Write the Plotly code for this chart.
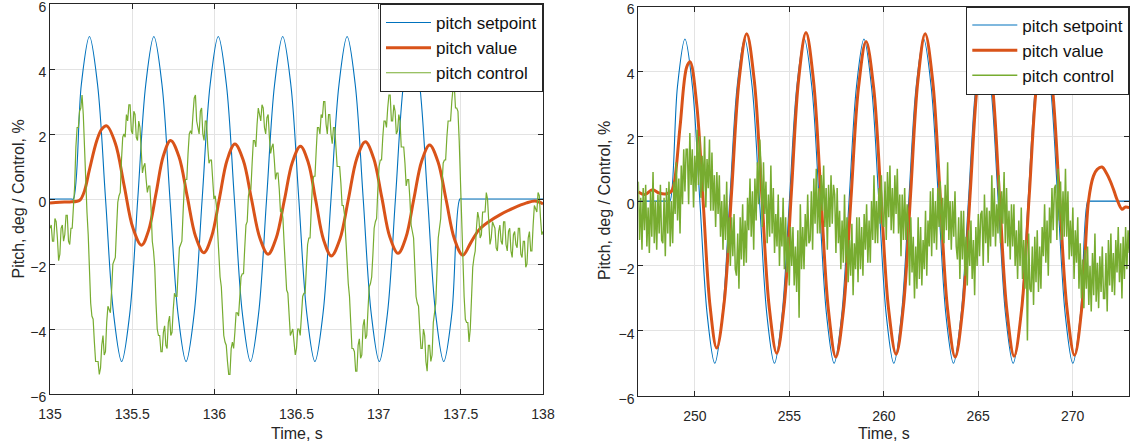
import plotly.graph_objects as go

# ---------------- run A: 135 .. 138 s ----------------
tA_set = [135.000, 135.130,
          135.142, 135.191, 135.240, 135.289, 135.338, 135.387, 135.436, 135.485,
          135.534, 135.583, 135.632, 135.681, 135.730, 135.779, 135.828, 135.877,
          135.926, 135.975, 136.024, 136.073, 136.122, 136.171, 136.220, 136.269,
          136.318, 136.367, 136.416, 136.465, 136.514, 136.563, 136.612, 136.661,
          136.710, 136.759, 136.808, 136.857, 136.906, 136.955, 137.004, 137.053,
          137.102, 137.151, 137.200, 137.249, 137.298, 137.347, 137.396, 137.445,
          137.494, 137.506, 138.000]
vA_set = [0, 0,
          0, 3.54, 5, 3.54, 0, -3.54, -5, -3.54,
          0, 3.54, 5, 3.54, 0, -3.54, -5, -3.54,
          0, 3.54, 5, 3.54, 0, -3.54, -5, -3.54,
          0, 3.54, 5, 3.54, 0, -3.54, -5, -3.54,
          0, 3.54, 5, 3.54, 0, -3.54, -5, -3.54,
          0, 3.54, 5, 3.54, 0, -3.54, -5, -3.54,
          0, 0, 0]

tA_val = [135.000, 135.060, 135.120, 135.165, 135.185, 135.210, 135.240, 135.285,
          135.315, 135.345, 135.398, 135.451, 135.504, 135.557, 135.601, 135.646,
          135.690, 135.734, 135.785, 135.835, 135.886, 135.936, 135.983, 136.031,
          136.078, 136.125, 136.176, 136.226, 136.277, 136.327, 136.376, 136.426,
          136.475, 136.524, 136.571, 136.618, 136.665, 136.712, 136.764, 136.816,
          136.867, 136.919, 136.969, 137.019, 137.068, 137.118, 137.166, 137.214,
          137.262, 137.310, 137.360, 137.411, 137.461, 137.512, 137.560, 137.610,
          137.670, 137.740, 137.820, 137.900, 137.950, 137.980, 138.000]
vA_val = [-0.12, -0.10, -0.09, -0.07, -0.02, 0.25, 0.90, 1.80,
          2.15, 2.25, 1.71, 0.42, -0.88, -1.42, -0.95, 0.19,
          1.33, 1.80, 1.30, 0.08, -1.15, -1.65, -1.16, 0.02,
          1.20, 1.69, 1.19, 0.00, -1.20, -1.70, -1.21, -0.04,
          1.13, 1.62, 1.13, -0.07, -1.26, -1.75, -1.24, 0.00,
          1.25, 1.76, 1.26, 0.05, -1.17, -1.67, -1.18, 0.00,
          1.17, 1.66, 1.16, -0.04, -1.23, -1.73, -1.35, -0.95,
          -0.70, -0.48, -0.28, -0.12, -0.06, -0.10, -0.15]

# control signal, sampled every 7.5 ms from 135.000 s
tA_ctl_start, tA_ctl_step = 135.0, 0.0075
vA_ctl = [
    -0.9, -0.8, -1.3, -1.3, -0.6, -0.7, -1.2, -1.9, -1.7, -0.9, -0.8, -1.3, -1.1, -0.5, -0.5, -1.3, -1.4, -0.9, -0.9, -0.3,
    0.4, 1.6, 2.2, 2.2, 2.7, 2.8, 3.2, 2.6, 1.4, 0.3, -0.4, -1.1, -2.3, -3.2, -3.6, -3.7, -4.4, -5.0, -5.0, -5.0,
    -5.4, -5.2, -4.5, -4.2, -4.8, -4.7, -3.8, -3.3, -3.4, -3.5, -2.8, -2.0, -1.9, -1.8, -0.9, -0.1, 0.1, 0.2, 1.2, 1.9,
    2.0, 1.9, 2.6, 2.4, 2.9, 2.9, 2.1, 2.0, 2.7, 2.6, 1.9, 1.8, 2.4, 2.2, 1.5, 0.8, 1.0, 1.1, 0.6, 0.2,
    0.4, 0.4, -0.3, -1.3, -1.6, -2.1, -3.2, -4.0, -4.2, -4.2, -4.7, -4.7, -4.1, -3.9, -4.5, -4.6, -3.8, -3.6, -4.2, -4.1,
    -3.4, -2.9, -3.0, -3.0, -2.2, -1.5, -1.4, -1.3, -0.4, 0.4, 0.6, 0.6, 1.4, 2.0, 2.1, 2.0, 2.6, 3.1, 3.2, 2.4,
    2.2, 2.0, 2.7, 2.8, 2.0, 1.8, 2.4, 2.4, 1.6, 1.1, 1.2, 1.2, 0.6, 0.0, 0.1, -0.2, -1.0, -2.0, -2.4, -2.7,
    -3.5, -4.2, -4.4, -4.5, -5.0, -5.4, -5.4, -4.6, -4.4, -4.6, -4.1, -3.5, -3.5, -3.6, -3.0, -2.4, -2.3, -2.3, -1.5, -0.8,
    -0.7, 0.1, 0.3, 0.3, 1.1, 1.8, 1.8, 1.6, 2.3, 2.8, 2.6, 2.4, 2.9, 2.8, 2.2, 2.0, 2.5, 2.6, 1.9, 1.4,
    1.6, 1.7, 1.2, 0.6, 0.8, 0.8, 0.3, -0.4, -0.3, -0.6, -1.4, -2.4, -2.8, -2.9, -3.6, -4.2, -4.1, -4.0, -4.4, -4.8,
    -4.6, -4.0, -4.0, -4.2, -3.6, -3.0, -2.9, -2.9, -2.1, -1.4, -1.2, -1.2, -0.3, 0.5, 0.7, 0.7, 1.5, 2.2, 2.2, 2.0,
    2.6, 2.5, 3.0, 3.0, 2.3, 2.0, 2.6, 2.6, 2.0, 1.7, 2.2, 2.2, 1.6, 1.0, 1.0, 1.0, 0.5, -0.2, -0.2, -0.5,
    -1.2, -2.1, -2.6, -3.0, -3.9, -4.6, -4.6, -4.7, -5.3, -5.3, -4.5, -4.3, -4.9, -4.8, -3.9, -3.7, -4.3, -4.2, -3.4, -2.7,
    -2.6, -2.4, -1.7, -0.9, -0.7, -0.6, 0.3, 1.0, 1.2, 1.2, 1.9, 2.4, 2.4, 2.2, 2.8, 3.2, 3.2, 2.4, 2.4, 2.9,
    2.7, 2.0, 2.1, 2.6, 2.4, 1.6, 1.6, 1.6, 1.1, 0.4, 0.6, 0.6, 0.0, -0.8, -1.0, -1.2, -2.1, -3.0, -3.2, -3.3,
    -4.0, -4.6, -4.6, -4.0, -4.2, -5.0, -5.3, -4.5, -4.5, -5.0, -4.8, -3.8, -3.5, -3.2, -2.2, -1.2, -0.9, -0.6, 0.4, 1.1,
    1.2, 1.2, 1.9, 2.4, 2.4, 2.4, 3.0, 3.4, 3.5, 2.8, 2.8, 2.7, 1.8, 0.4, -1.0, -1.7, -3.0, -3.7, -3.8, -3.8,
    -4.4, -4.0, -3.0, -2.1, -1.8, -1.6, -0.9, -0.4, -0.6, -1.2, -1.1, -0.4, -0.4, -0.4, 0.2, 0.0, -0.7, -1.4, -1.2, -0.7,
    -0.8, -0.9, -1.5, -1.6, -1.0, -0.8, -1.3, -1.4, -0.7, -0.7, -1.4, -1.6, -1.0, -0.9, -1.6, -1.8, -1.1, -1.0, -1.4, -1.5,
    -0.9, -0.9, -1.7, -1.8, -1.3, -1.3, -2.1, -2.0, -1.2, -1.0, -1.6, -1.6, -0.8, -0.2, -0.3, -0.4, 0.2, 0.1, -0.6, -1.1,
    -1.0]

# ---------------- run B: 247 .. 273 s ----------------
tB_set = [247.000, 248.600,
          248.680, 249.075, 249.470, 249.865, 250.260, 250.655, 251.050, 251.445,
          251.840, 252.235, 252.630, 253.025, 253.420, 253.815, 254.210, 254.605,
          255.000, 255.395, 255.790, 256.185, 256.580, 256.975, 257.370, 257.765,
          258.160, 258.555, 258.950, 259.345, 259.740, 260.135, 260.530, 260.925,
          261.320, 261.715, 262.110, 262.505, 262.900, 263.295, 263.690, 264.085,
          264.480, 264.875, 265.270, 265.665, 266.060, 266.455, 266.850, 267.245,
          267.640, 268.035, 268.430, 268.825, 269.220, 269.615, 270.010, 270.405,
          270.800, 270.880, 273.000]
vB_set = [0, 0,
          0, 3.54, 5, 3.54, 0, -3.54, -5, -3.54,
          0, 3.54, 5, 3.54, 0, -3.54, -5, -3.54,
          0, 3.54, 5, 3.54, 0, -3.54, -5, -3.54,
          0, 3.54, 5, 3.54, 0, -3.54, -5, -3.54,
          0, 3.54, 5, 3.54, 0, -3.54, -5, -3.54,
          0, 3.54, 5, 3.54, 0, -3.54, -5, -3.54,
          0, 3.54, 5, 3.54, 0, -3.54, -5, -3.54,
          0, 0, 0]

tB_val = [247.00, 247.35, 247.75, 248.10, 248.45, 248.75, 248.90, 249.21,
          249.56, 249.74, 250.09, 250.445, 250.80, 251.15, 251.55, 251.945,
          252.34, 252.74, 253.14, 253.535, 253.93, 254.33, 254.72, 255.105,
          255.49, 255.88, 256.275, 256.67, 257.065, 257.46, 257.86, 258.26,
          258.66, 259.06, 259.46, 259.855, 260.25, 260.65, 261.035, 261.42,
          261.805, 262.19, 262.59, 262.985, 263.38, 263.78, 264.17, 264.565,
          264.96, 265.35, 265.74, 266.125, 266.51, 266.90, 267.30, 267.70,
          268.10, 268.50, 268.90, 269.30, 269.70, 270.10, 270.50, 270.84,
          271.10, 271.30, 271.55, 271.80, 271.99, 272.20, 272.35, 272.61,
          272.80, 273.00]
vB_val = [0.28, 0.20, 0.35, 0.25, 0.22, 0.30, 0.55, 2.29,
          4.13, 4.30, 3.00, -0.12, -3.24, -4.53, -3.11, 0.32,
          3.74, 5.16, 3.72, 0.24, -3.25, -4.69, -3.24, 0.26,
          3.75, 5.20, 3.73, 0.20, -3.34, -4.81, -3.38, 0.06,
          3.50, 4.92, 3.51, 0.10, -3.31, -4.72, -3.27, 0.22,
          3.71, 5.16, 3.70, 0.18, -3.35, -4.81, -3.36, 0.15,
          3.65, 5.10, 3.65, 0.16, -3.33, -4.78, -3.33, 0.16,
          3.65, 5.10, 3.66, 0.18, -3.31, -4.75, -3.20, 0.00,
          0.77, 0.98, 1.05, 0.85, 0.62, 0.30, 0.05, -0.25,
          -0.18, -0.20]

# control signal, sampled every 65 ms from 247.000 s
tB_ctl_start, tB_ctl_step = 247.0, 0.065
vB_ctl = [
    0.6, -1.2, 0.1, -1.5, 0.4, -0.9, 0.5, -1.4, -0.2, -1.6, 0.3, -1.1, 0.9, -1.3, 0.0, -1.5, 0.2, -1.0, 0.5, -1.2,
    -1.3, 0.1, -1.7, 0.4, -1.0, 0.6, -1.4, 0.0, -1.3, 0.6, -0.4, 1.2, -0.6, 0.7, -1.0, 1.1, -0.1, 1.6, 0.3, 1.6,
    1.6, -0.1, 2.1, 0.5, 1.6, -0.2, 1.4, 0.3, 2.2, 0.5, 2.0, 0.1, 1.4, 0.3, 2.0, -0.2, 1.3, 0.4, 1.9, -0.3,
    1.5, -0.3, 0.8, -0.8, 0.9, -0.4, 0.8, -1.1, 0.0, -1.5, 0.2, -1.2, 0.6, -1.6, -0.5, -2.0, -0.5, -1.7, -0.4, -2.1,
    -2.3, -1.0, -2.7, -0.5, -1.8, -0.1, -2.0, -0.6, -1.9, 0.1, -0.9, 0.7, -1.1, 0.3, -1.5, 0.7, -0.6, 1.2, -0.1, 1.9,
    1.0, -0.8, 1.2, -0.4, 0.6, -1.3, 0.2, -1.1, 1.1, -1.0, 0.4, -1.6, -0.4, -1.4, 0.2, -2.0, -0.5, -1.4, 0.1, -2.1,
    -0.5, -2.2, -1.1, -2.6, -0.8, -2.0, -0.8, -2.6, -1.4, -2.8, -0.9, -3.6, -0.1, -2.1, -0.8, -2.1, -0.4, -1.4, 0.2, -1.3,
    -1.2, 0.3, -1.5, 0.7, -0.7, 1.0, -1.0, 0.4, -1.0, 0.8, -0.3, 1.1, -0.8, 0.4, -1.5, 0.5, -0.8, 0.8, -0.7, 0.5,
    0.2, -1.6, 0.4, -1.3, -0.3, -2.1, -0.6, -1.9, 0.2, -1.9, -0.5, -2.5, -1.2, -2.3, -0.7, -2.9, -1.3, -2.1, -0.5, -2.5,
    -0.5, -2.1, -0.8, -2.3, -0.4, -1.5, -0.1, -1.9, -0.6, -1.9, 0.0, -1.2, 0.8, -1.3, 0.0, -1.3, 0.4, -0.7, 0.8, -0.7,
    -0.8, 0.6, -1.2, 0.9, -0.5, 1.1, -0.9, 0.4, -1.0, 0.8, -0.4, 1.0, -1.0, 0.2, -1.7, 0.2, -1.2, 0.4, -1.2, -0.1,
    -0.8, -2.6, -0.5, -2.2, -1.1, -3.0, -1.4, -2.7, -0.5, -2.4, -0.8, -2.6, -1.2, -2.1, -0.3, -2.3, -0.6, -1.4, 0.3, -1.7,
    0.4, -1.3, 0.0, -1.5, 0.4, -0.8, 0.6, -1.2, 0.1, -1.3, 0.5, -0.9, 1.2, -1.2, 0.0, -1.5, 0.0, -1.1, 0.3, -1.4,
    -1.8, -0.5, -2.4, -0.3, -1.8, -0.3, -2.3, -1.1, -2.6, -0.9, -2.0, -0.6, -2.4, -1.2, -2.9, -0.8, -2.0, -0.4, -1.7, -0.4,
    -0.3, -2.0, 0.2, -1.3, -0.2, -1.9, -0.3, -1.4, 0.8, -1.1, 0.4, -1.4, -0.1, -1.0, 0.8, -1.3, 0.3, -0.7, 0.9, -1.3,
    0.4, -1.4, -0.3, -1.8, -0.1, -1.4, -0.1, -2.0, -0.9, -2.4, -0.6, -2.0, -0.2, -2.4, -1.2, -2.7, -1.2, -4.3, -1.0, -2.7,
    -2.8, -1.4, -3.2, -1.1, -2.5, -0.9, -2.8, -1.4, -2.7, -0.8, -1.7, -0.1, -1.9, -0.6, -2.3, -0.2, -1.3, 0.4, -0.9, 0.4,
    0.5, -1.2, 1.0, -0.6, 0.6, -1.2, 0.3, -1.1, 1.0, -1.1, 0.3, -1.8, -0.6, -1.7, -0.2, -2.4, -0.9, -1.9, -0.5, -2.7,
    -1.3, -3.0, -1.8, -3.3, -1.5, -2.7, -1.4, -3.2, -2.0, -3.4, -1.6, -2.9, -1.0, -3.1, -1.9, -3.3, -1.7, -2.8, -1.4, -3.0,
    -3.0, -1.6, -3.4, -1.2, -2.6, -1.0, -2.8, -1.6, -2.9, -1.2, -2.2, -0.8, -2.5, -1.3, -3.0, -1.1, -2.4, -0.8, -2.1, -0.9,
    -1.6]

names = ["pitch setpoint", "pitch value", "pitch control"]
BLUE, ORANGE, GREEN = "#0072BD", "#D95319", "#77AC30"
FONT = "Liberation Sans, Arial, Helvetica, sans-serif"
INK = "#262626"

fig = go.Figure()


def add_run(t_set, v_set, t_val, v_val, c_start, c_step, c_vals, c_width, xa, ya, leg):
    fig.add_trace(go.Scatter(x=t_set, y=v_set, mode="lines", name=names[0],
                             line=dict(color=BLUE, width=1.1, shape="spline"),
                             xaxis=xa, yaxis=ya, legend=leg))
    fig.add_trace(go.Scatter(x=t_val, y=v_val, mode="lines", name=names[1],
                             line=dict(color=ORANGE, width=3, shape="spline"),
                             xaxis=xa, yaxis=ya, legend=leg))
    fig.add_trace(go.Scatter(y=c_vals, x0=c_start, dx=c_step, mode="lines", name=names[2],
                             line=dict(color=GREEN, width=c_width),
                             xaxis=xa, yaxis=ya, legend=leg))


add_run(tA_set, vA_set, tA_val, vA_val, tA_ctl_start, tA_ctl_step, vA_ctl, 1.2, "x", "y", "legend")
add_run(tB_set, vB_set, tB_val, vB_val, tB_ctl_start, tB_ctl_step, vB_ctl, 1.5, "x2", "y2", "legend2")

W, H = 1134, 448
axA = dict(left=50, right=543, top=4, bottom=394)
axB = dict(left=638.3, right=1129.3, top=6.5, bottom=395.7)

common = dict(showgrid=True, gridcolor="#e3e3e3", gridwidth=1, zeroline=False,
              showline=True, linecolor=INK, linewidth=1, mirror="ticks",
              ticks="inside", ticklen=5, tickcolor=INK, automargin=False,
              ticklabeloverflow="allow",
              tickfont=dict(family=FONT, size=14, color=INK))


def xdom(a):
    return [a["left"] / W, a["right"] / W]


def ydom(a):
    return [1 - a["bottom"] / H, 1 - a["top"] / H]


yticks = [-6, -4, -2, 0, 2, 4, 6]
legend_style = dict(xanchor="right", yanchor="top", bgcolor="white", bordercolor=INK,
                    borderwidth=1, itemwidth=45,
                    font=dict(family=FONT, size=17, color="#111111"))

fig.update_layout(
    width=W, height=H, autosize=False,
    margin=dict(l=0, r=0, t=0, b=0),
    paper_bgcolor="white", plot_bgcolor="white",
    xaxis=dict(common, domain=xdom(axA), range=[135, 138], ticklabelstandoff=7,
               tickvals=[135, 135.5, 136, 136.5, 137, 137.5, 138],
               ticktext=["135", "135.5", "136", "136.5", "137", "137.5", "138"], anchor="y"),
    yaxis=dict(common, domain=ydom(axA), range=[-6, 6], tickvals=yticks, ticklabelshift=3, anchor="x"),
    xaxis2=dict(common, domain=xdom(axB), range=[247, 273], ticklabelstandoff=7,
                tickvals=[250, 255, 260, 265, 270], anchor="y2"),
    yaxis2=dict(common, domain=ydom(axB), range=[-6, 6], tickvals=yticks, ticklabelshift=3, anchor="x2"),
    legend=dict(legend_style, x=axA["right"] / W, y=1 - axA["top"] / H),
    legend2=dict(legend_style, x=axB["right"] / W, y=1 - axB["top"] / H),
    showlegend=True,
)

title_font = dict(family=FONT, size=16, color=INK)
for a in (axA, axB):
    cx = (a["left"] + a["right"]) / 2
    fig.add_annotation(text="Time, s", xref="paper", yref="paper", x=cx / W, y=1 - 433 / H,
                       xanchor="center", yanchor="middle", showarrow=False, font=title_font)
fig.add_annotation(text="Pitch, deg / Control, %", xref="paper", yref="paper", x=17.5 / W, y=1 - 199 / H,
                   xanchor="center", yanchor="middle", textangle=-90, showarrow=False, font=title_font)
fig.add_annotation(text="Pitch, deg / Control, %", xref="paper", yref="paper", x=604 / W, y=1 - 201 / H,
                   xanchor="center", yanchor="middle", textangle=-90, showarrow=False, font=title_font)

fig.write_html("out.html")
